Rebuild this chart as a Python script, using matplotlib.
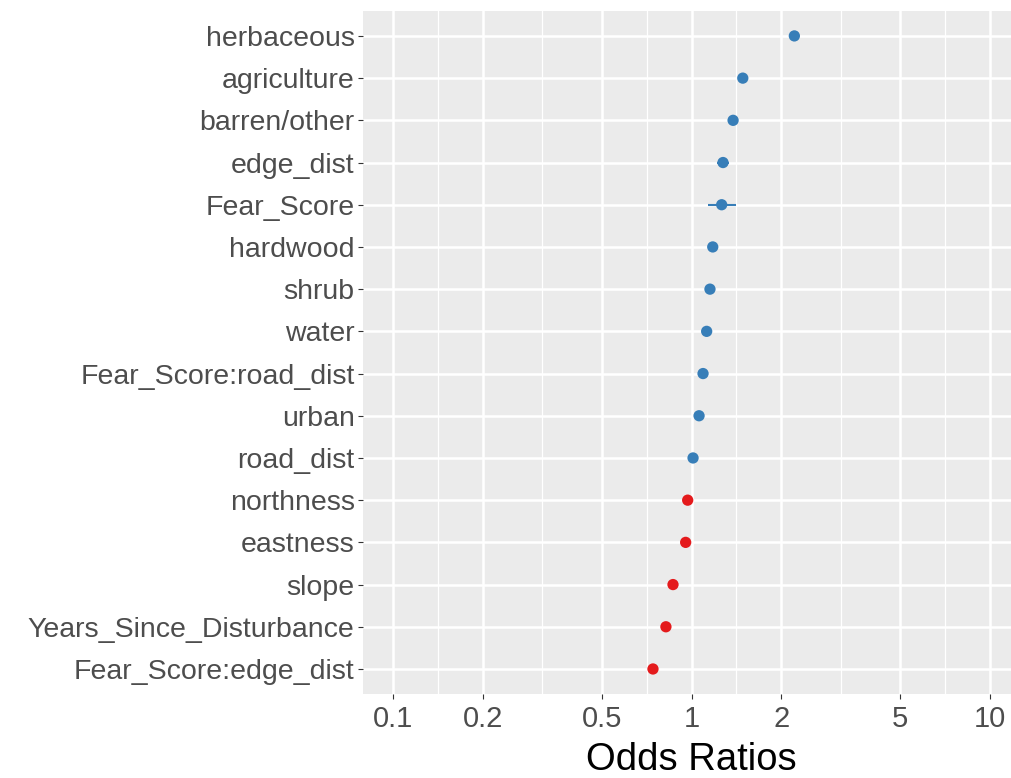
import numpy as np
import matplotlib
matplotlib.use("Agg")
import matplotlib.pyplot as plt
from matplotlib.ticker import FixedLocator, FixedFormatter, NullFormatter

# Model terms (top to bottom) with odds ratios and 95% confidence limits
terms = [
    "herbaceous", "agriculture", "barren/other", "edge_dist", "Fear_Score",
    "hardwood", "shrub", "water", "Fear_Score:road_dist", "urban",
    "road_dist", "northness", "eastness", "slope",
    "Years_Since_Disturbance", "Fear_Score:edge_dist",
]
odds_ratio = [2.21, 1.485, 1.378, 1.275, 1.262, 1.178, 1.153, 1.124,
              1.093, 1.060, 1.012, 0.971, 0.956, 0.867, 0.821, 0.743]
ci_low = [2.18, 1.465, 1.360, 1.215, 1.136, 1.162, 1.138, 1.110,
          1.080, 1.047, 1.000, 0.959, 0.944, 0.856, 0.810, 0.733]
ci_high = [2.24, 1.505, 1.396, 1.338, 1.413, 1.194, 1.168, 1.138,
           1.106, 1.073, 1.024, 0.983, 0.968, 0.878, 0.832, 0.753]

x_breaks = [0.1, 0.2, 0.5, 1, 2, 5, 10]
x_break_labels = ["0.1", "0.2", "0.5", "1", "2", "5", "10"]

BLUE = "#377EB8"
RED = "#E41A1C"
PANEL = "#EBEBEB"
TEXT_GREY = "#4D4D4D"

plt.rcParams["font.family"] = ["Liberation Sans", "DejaVu Sans"]

fig = plt.figure(figsize=(10.11, 7.78), dpi=100)
W, H = 1011, 778
left_px, right_px, top_px, bottom_px = 363, 1020, 10.6, 694.3
ax = fig.add_axes([left_px / W, 1 - bottom_px / H,
                   (right_px - left_px) / W, (bottom_px - top_px) / H])
ax.set_facecolor(PANEL)
for s in ax.spines.values():
    s.set_visible(False)

n = len(terms)
ypos = np.arange(n)[::-1]

ax.set_xscale("log")
ax.set_xlim(10 ** -1.1, 10 ** 1.1)
ax.set_ylim(-0.6, n - 1 + 0.6)

# grid: major at breaks, minor at log-midpoints between breaks
minor = [np.sqrt(a * b) for a, b in zip(x_breaks[:-1], x_breaks[1:])]
ax.xaxis.set_major_locator(FixedLocator(x_breaks))
ax.xaxis.set_major_formatter(FixedFormatter(x_break_labels))
ax.xaxis.set_minor_locator(FixedLocator(minor))
ax.xaxis.set_minor_formatter(NullFormatter())
for v in minor:
    ax.axvline(v, color="white", lw=0.9, zorder=0.5)
for v in x_breaks:
    ax.axvline(v, color="white", lw=1.8, zorder=0.6)
for y in ypos:
    ax.axhline(y, color="white", lw=1.8, zorder=0.6)

ax.set_yticks(ypos)
ax.set_yticklabels(terms)

ax.tick_params(axis="both", which="major", length=3.5, width=0.8,
               color="#333333", labelcolor=TEXT_GREY)
ax.tick_params(axis="y", labelsize=20.5, pad=2.5)
ax.tick_params(axis="x", labelsize=21, pad=4)
ax.tick_params(axis="x", which="minor", length=0)

colors = [BLUE if v >= 1 else RED for v in odds_ratio]
for y, lo, hi, c in zip(ypos, ci_low, ci_high, colors):
    ax.plot([lo, hi], [y, y], color=c, lw=1.5, solid_capstyle="butt", zorder=2)
ax.scatter(odds_ratio, ypos, s=66, c=colors, edgecolors="none", zorder=3)

fig.text(691.5 / W, 1 - 770 / H, "Odds Ratios", ha="center", va="baseline",
         fontsize=27.5, color="black")

fig.savefig("out.png", dpi=100)
